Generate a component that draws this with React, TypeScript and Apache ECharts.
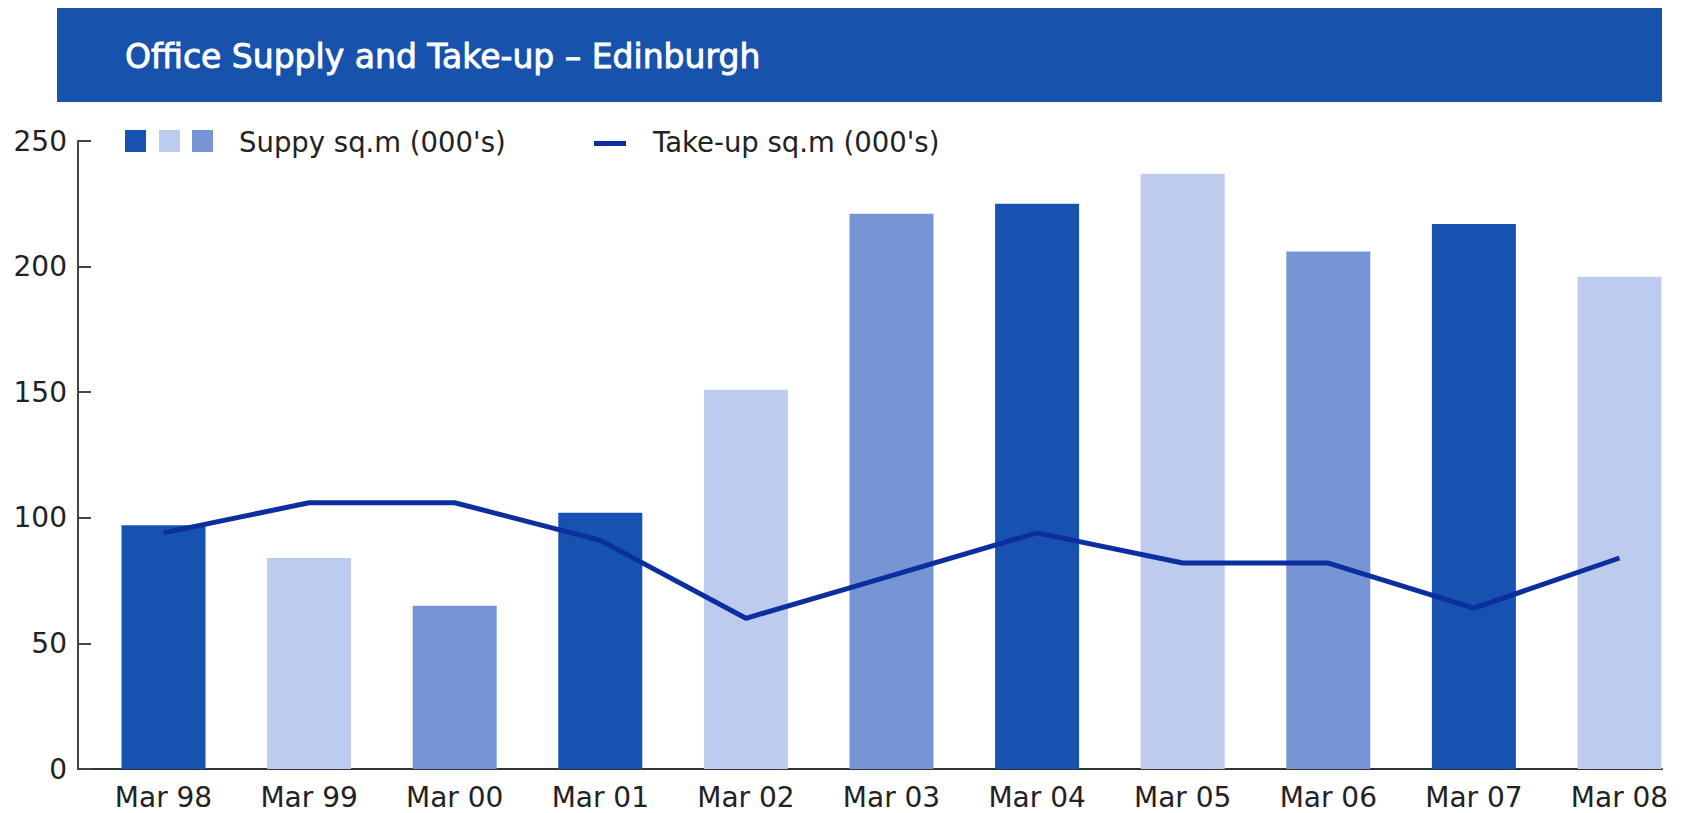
import React, { useEffect, useRef } from "react";
import * as echarts from "echarts";

const categories = ["Mar 98", "Mar 99", "Mar 00", "Mar 01", "Mar 02", "Mar 03", "Mar 04", "Mar 05", "Mar 06", "Mar 07", "Mar 08"];
const supply = [97, 84, 65, 102, 151, 221, 225, 237, 206, 217, 196];
const takeUp = [94, 106, 106, 91, 60, 77, 94, 82, 82, 64, 84];
const yTicks = [0, 50, 100, 150, 200, 250];
const barColors = ["#1852b0", "#bccbee", "#7795d5"];
const lineColor = "#0b2f9e";
const titleText = "Office Supply and Take-up – Edinburgh";
const supplyLabel = "Suppy sq.m (000's)";
const takeUpLabel = "Take-up sq.m (000's)";

const FONT = "'DejaVu Sans', sans-serif";

export default function App() {
  const ref = useRef<HTMLDivElement>(null);
  useEffect(() => {
    if (!ref.current) return;
    const chart = echarts.init(ref.current, null, { renderer: "svg" });
    const option: any = {
      animation: false,
      backgroundColor: "#ffffff",
      textStyle: { fontFamily: FONT },
      grid: [
        { left: 163.5, right: 63.5, top: 141, bottom: 44 },
        { left: 78, right: 21, top: 141, bottom: 44 },
      ],
      xAxis: [
        {
          type: "category",
          gridIndex: 0,
          data: categories,
          boundaryGap: false,
          axisLine: { show: false },
          axisTick: { show: false },
          axisLabel: { color: "#222", fontSize: 28, lineHeight: 28, fontFamily: FONT, margin: 14, interval: 0 },
        },
        {
          type: "category",
          gridIndex: 1,
          data: categories,
          axisLine: { show: true, lineStyle: { color: "#333", width: 2 } },
          axisTick: { show: false },
          axisLabel: { show: false },
        },
      ],
      yAxis: [
        {
          type: "value",
          gridIndex: 0,
          min: yTicks[0],
          max: yTicks[yTicks.length - 1],
          interval: 50,
          offset: 85.5,
          splitLine: { show: false },
          axisLine: { show: true, lineStyle: { color: "#444", width: 2 } },
          axisTick: { show: true, inside: true, length: 13, lineStyle: { color: "#444", width: 2 } },
          axisLabel: { color: "#222", fontSize: 28, fontFamily: FONT, margin: 11 },
        },
        {
          type: "value",
          gridIndex: 1,
          min: 0,
          max: 250,
          show: false,
        },
      ],
      series: [
        {
          name: supplyLabel,
          type: "bar",
          xAxisIndex: 0,
          yAxisIndex: 0,
          barWidth: 84,
          data: supply,
          itemStyle: {
            color: (p: any) => barColors[p.dataIndex % 3],
          },
        },
        {
          name: takeUpLabel,
          type: "line",
          xAxisIndex: 0,
          yAxisIndex: 0,
          data: takeUp,
          symbol: "none",
          lineStyle: { color: lineColor, width: 5 },
          z: 5,
        },
      ],
      graphic: [
        {
          type: "rect",
          shape: { x: 57, y: 8, width: 1605, height: 94 },
          style: { fill: "#1752ad" },
          silent: true,
        },
        {
          type: "text",
          x: 125,
          y: 56,
          style: {
            text: titleText,
            fill: "#ffffff",
            fontSize: 33,
            fontWeight: "normal",
            fontFamily: FONT,
            verticalAlign: "middle",
            stroke: "#ffffff",
            lineWidth: 0.9,
          },
        },
        { type: "rect", shape: { x: 125, y: 130, width: 21, height: 22 }, style: { fill: barColors[0] } },
        { type: "rect", shape: { x: 159, y: 130, width: 21, height: 22 }, style: { fill: barColors[1] } },
        { type: "rect", shape: { x: 192, y: 130, width: 21, height: 22 }, style: { fill: barColors[2] } },
        {
          type: "text",
          x: 239,
          y: 142,
          style: { text: supplyLabel, fill: "#222", fontSize: 27.5, fontFamily: FONT, verticalAlign: "middle" },
        },
        {
          type: "rect",
          shape: { x: 594, y: 141, width: 32, height: 5 },
          style: { fill: lineColor },
        },
        {
          type: "text",
          x: 653,
          y: 142,
          style: { text: takeUpLabel, fill: "#222", fontSize: 27.5, fontFamily: FONT, verticalAlign: "middle" },
        },
      ],
    };
    chart.setOption(option);
    return () => chart.dispose();
  }, []);
  return (
    <div
      ref={ref}
      style={{ position: "fixed", left: 0, top: 0, width: 1683, height: 813 }}
    />
  );
}
